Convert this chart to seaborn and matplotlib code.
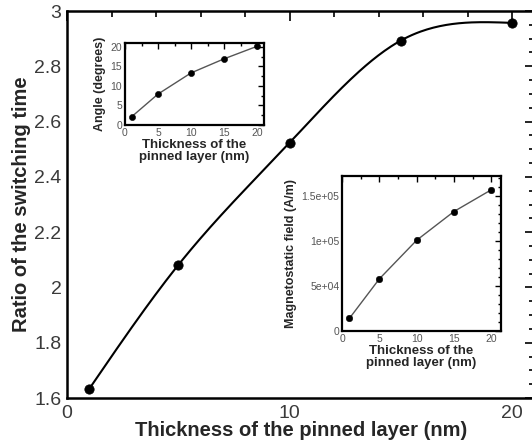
import numpy as np
import pandas as pd
import matplotlib
matplotlib.use("Agg")
import matplotlib.pyplot as plt
from matplotlib.ticker import MultipleLocator, FixedLocator, FixedFormatter
import seaborn as sns

sns.set_theme(style="white")
plt.rcParams['font.family'] = ['Liberation Sans', 'DejaVu Sans']

# Data
thickness = [1, 5, 10, 15, 20]
ratio = [1.633, 2.081, 2.523, 2.893, 2.957]
angle = [2.1, 7.9, 13.3, 16.9, 20.1]
field = [14100, 57800, 100700, 132600, 156700]

main_xlabel = "Thickness of the pinned layer (nm)"
main_ylabel = "Ratio of the switching time"
inset_xlabel = "Thickness of the\npinned layer (nm)"
angle_ylabel = "Angle (degrees)"
field_ylabel = "Magnetostatic field (A/m)"
field_ticks = [0, 50000, 100000, 150000]
field_ticklabels = ["0", "5e+04", "1e+05", "1.5e+05"]


def natural_spline(x, y, n=200):
    x = np.asarray(x, float); y = np.asarray(y, float)
    m = len(x); h = np.diff(x)
    A = np.zeros((m, m)); b = np.zeros(m)
    A[0, 0] = A[-1, -1] = 1
    for i in range(1, m - 1):
        A[i, i - 1] = h[i - 1]; A[i, i] = 2 * (h[i - 1] + h[i]); A[i, i + 1] = h[i]
        b[i] = 3 * ((y[i + 1] - y[i]) / h[i] - (y[i] - y[i - 1]) / h[i - 1])
    c = np.linalg.solve(A, b)
    xs = np.linspace(x[0], x[-1], n); ys = np.empty_like(xs)
    for k, t in enumerate(xs):
        i = min(np.searchsorted(x, t, side='right') - 1, m - 2)
        d = t - x[i]
        bi = (y[i + 1] - y[i]) / h[i] - h[i] * (2 * c[i] + c[i + 1]) / 3
        di = (c[i + 1] - c[i]) / (3 * h[i])
        ys[k] = y[i] + bi * d + c[i] * d ** 2 + di * d ** 3
    return xs, ys


fig = plt.figure(figsize=(5.32, 4.46), dpi=100)
fig.patch.set_facecolor('white')

# main axes
ax = fig.add_axes([67 / 532, 48 / 446, (535 - 67) / 532, (398 - 11) / 446])
sx, sy = natural_spline(thickness, ratio)
sns.lineplot(x=sx, y=sy, ax=ax, color='black', lw=1.5)
sns.scatterplot(x=thickness, y=ratio, ax=ax, color='black', s=45, edgecolor='black', zorder=5)
ax.set_xlim(0, (535 - 67) / 22.25)
ax.set_ylim(1.6, 3.0)
ax.xaxis.set_major_locator(FixedLocator([0, 10, 20]))
ax.xaxis.set_minor_locator(MultipleLocator(2))
ax.yaxis.set_major_locator(MultipleLocator(0.2))
ax.yaxis.set_minor_locator(MultipleLocator(0.05))
ax.yaxis.set_major_formatter(plt.FuncFormatter(lambda v, p: f"{v:g}"))
ax.tick_params(which='both', direction='in', top=True, right=True, colors='black',
               labelcolor='#3a3a3a', labelsize=14, width=1.2)
ax.tick_params(which='major', length=7)
ax.tick_params(which='minor', length=4)
ax.tick_params(axis='x', which='major', pad=5)
ax.tick_params(axis='y', which='major', pad=4)
for s in ['left', 'bottom', 'top']:
    ax.spines[s].set_color('black'); ax.spines[s].set_linewidth(1.8)
ax.spines['right'].set_visible(False)
ax.set_xlabel(main_xlabel, fontsize=14.5, fontweight='bold', labelpad=-1)
ax.set_ylabel(main_ylabel, fontsize=14.5, fontweight='bold', labelpad=2)


def style_inset(a):
    a.tick_params(which='both', direction='in', top=True, right=True, colors='black',
                  labelcolor='#555555', labelsize=7.5, width=1.0, pad=2)
    a.tick_params(which='major', length=4)
    a.tick_params(which='minor', length=2.5)
    for s in a.spines.values():
        s.set_color('black'); s.set_linewidth(1.6); s.set_visible(True)
    a.set_facecolor('white')


# inset 1: angle
a1 = fig.add_axes([125 / 532, (446 - 125) / 446, (264 - 125) / 532, (125 - 43) / 446])
sns.lineplot(x=thickness, y=angle, ax=a1, color='#555555', lw=1.0)
sns.scatterplot(x=thickness, y=angle, ax=a1, color='black', s=20, edgecolor='black', zorder=5)
a1.set_xlim(0, 21.06)
a1.set_ylim(0, 20.95)
a1.xaxis.set_major_locator(MultipleLocator(5))
a1.xaxis.set_minor_locator(MultipleLocator(2.5))
a1.yaxis.set_major_locator(MultipleLocator(5))
a1.yaxis.set_minor_locator(MultipleLocator(2.5))
style_inset(a1)
a1.set_xlabel(inset_xlabel, fontsize=9.5, fontweight='bold', labelpad=1, linespacing=0.95)
a1.set_ylabel(angle_ylabel, fontsize=9, fontweight='bold', labelpad=3)

# inset 2: field
a2 = fig.add_axes([342 / 532, (446 - 331) / 446, (501 - 342) / 532, (331 - 176) / 446])
sns.lineplot(x=thickness, y=field, ax=a2, color='#555555', lw=1.0)
sns.scatterplot(x=thickness, y=field, ax=a2, color='black', s=22, edgecolor='black', zorder=5)
a2.set_xlim(0, 21.3)
a2.set_ylim(0, 172000)
a2.xaxis.set_major_locator(MultipleLocator(5))
a2.xaxis.set_minor_locator(MultipleLocator(2.5))
a2.yaxis.set_major_locator(FixedLocator(field_ticks))
a2.yaxis.set_major_formatter(FixedFormatter(field_ticklabels))
a2.yaxis.set_minor_locator(MultipleLocator(10000))
style_inset(a2)
a2.set_xlabel(inset_xlabel, fontsize=9.5, fontweight='bold', labelpad=1, linespacing=0.95)
a2.set_ylabel(field_ylabel, fontsize=9, fontweight='bold', labelpad=3)

fig.savefig("out.png", dpi=100, facecolor='white')
